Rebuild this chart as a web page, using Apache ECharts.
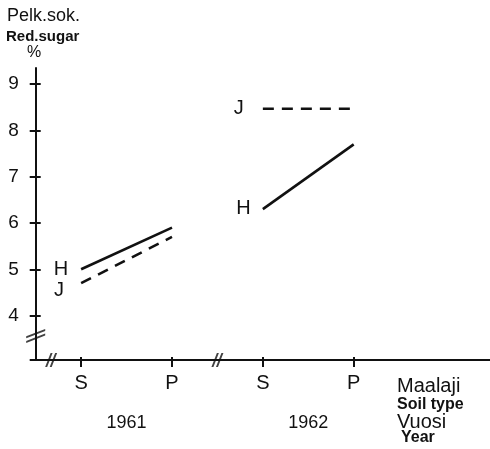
<!DOCTYPE html>
<html>
<head>
<meta charset="utf-8">
<script src="https://cdn.jsdelivr.net/npm/echarts@6/dist/echarts.min.js"></script>
<style>
  html, body { margin: 0; padding: 0; background: #fff; }
  #chart { width: 490px; height: 449px; }
</style>
</head>
<body>
<div id="chart"></div>
<script>
// Reducing sugar (%) by soil type (S, P) in 1961 and 1962, groups H and J
const soilPositions = [0.5, 1.5, 2.5, 3.5];
const soilLabels = ['S', 'P', 'S', 'P'];
const yearPositions = [1, 3];
const yearLabels = ['1961', '1962'];
const yTicks = [4, 5, 6, 7, 8, 9];

const h1961 = [5.0, 5.9];
const j1961 = [4.7, 5.7];
const h1962 = [6.3, 7.7];
const j1962 = [8.47, 8.47];

// axis break marks ("//") on the value scales
const xBreaks = [[0.17, 3.04], [2.0, 3.04]];
const yBreaks = [[0, 3.56]];

const INK = '#111';
const FONT = '"Liberation Sans", Arial, Helvetica, sans-serif';

const yMin = 3.04, yMax = 9.35;

function pairs(xs, ys) { return ys.map((v, i) => [xs[i], v]); }

function lineSeries(name, xs, ys, dashed, labelCfg) {
  const data = pairs(xs, ys).map((p, i) => i === 0
    ? { value: p, label: Object.assign({ show: true, formatter: name, color: INK,
        fontFamily: FONT, fontSize: 20, position: 'left' }, labelCfg) }
    : { value: p });
  return {
    type: 'line', name: name, data: data,
    showSymbol: true, symbol: 'circle', symbolSize: 0.1,
    itemStyle: { color: INK },
    lineStyle: { color: INK, width: 2.6, type: dashed ? [11, 8] : 'solid' },
    label: { show: false },
    silent: true, animation: false, z: 5
  };
}

const chart = echarts.init(document.getElementById('chart'), null, { renderer: 'canvas' });

const baseX = { type: 'value', min: 0, max: 5, position: 'bottom', splitLine: { show: false } };
const baseY = { type: 'value', min: yMin, max: yMax, position: 'left', splitLine: { show: false } };

chart.setOption({
  backgroundColor: '#fff',
  animation: false,
  grid: { left: 35.7, right: 0, top: 68, bottom: 89, containLabel: false },
  xAxis: [
    Object.assign({}, baseX, {
      axisLine: { show: true, lineStyle: { color: INK, width: 2 } },
      axisTick: { show: true, customValues: soilPositions, length: 7, lineStyle: { color: INK, width: 2 } },
      axisLabel: { show: true, customValues: soilPositions, margin: 13, color: INK, fontFamily: FONT, fontSize: 20,
        formatter: v => soilLabels[soilPositions.indexOf(v)] ?? '' }
    }),
    Object.assign({}, baseX, {
      axisLine: { show: false },
      axisTick: { show: true, inside: true, customValues: soilPositions, length: 3, lineStyle: { color: INK, width: 2 } },
      axisLabel: { show: false }
    }),
    Object.assign({}, baseX, {
      axisLine: { show: false },
      axisTick: { show: false },
      axisLabel: { show: true, customValues: yearPositions, margin: 54, color: INK, fontFamily: FONT, fontSize: 18,
        fontWeight: 500, formatter: v => yearLabels[yearPositions.indexOf(v)] ?? '' }
    })
  ],
  yAxis: [
    Object.assign({}, baseY, {
      axisLine: { show: true, lineStyle: { color: INK, width: 2 } },
      axisTick: { show: true, customValues: [yMin].concat(yTicks), length: 6, lineStyle: { color: INK, width: 2 } },
      axisLabel: { show: true, customValues: yTicks, margin: 17, color: INK, fontFamily: FONT, fontSize: 19 }
    }),
    Object.assign({}, baseY, {
      axisLine: { show: false },
      axisTick: { show: true, inside: true, customValues: yTicks, length: 5, lineStyle: { color: INK, width: 2 } },
      axisLabel: { show: false }
    })
  ],
  series: [
    lineSeries('H', soilPositions.slice(0, 2), h1961, false, { distance: 13, offset: [0, 0] }),
    lineSeries('J', soilPositions.slice(0, 2), j1961, true, { distance: 17, offset: [0, 7] }),
    lineSeries('H', soilPositions.slice(2, 4), h1962, false, { distance: 12, offset: [0, -1] }),
    lineSeries('J', soilPositions.slice(2, 4), j1962, true, { distance: 19, offset: [0, 0] }),
    {
      type: 'scatter', data: xBreaks, silent: true, z: 6,
      symbol: 'path://M0,16 L2.2,16 L8.2,0 L6,0 Z M5,16 L7.2,16 L13.2,0 L11,0 Z',
      symbolSize: [12, 14], itemStyle: { color: INK }
    },
    {
      type: 'scatter', data: yBreaks, silent: true, z: 6,
      symbol: 'path://M0,9 L17,1 L17,3.2 L0,11.2 Z M0,14 L17,6 L17,8.2 L0,16.2 Z',
      symbolSize: [19, 14], itemStyle: { color: INK }
    }
  ],
  graphic: [
    { type: 'text', left: 7, top: 7, style: { text: 'Pelk.sok.', font: '18px ' + FONT, fill: INK } },
    { type: 'text', left: 6, top: 29, style: { text: 'Red.sugar', font: 'bold 15px ' + FONT, fill: INK } },
    { type: 'text', left: 27, top: 45, style: { text: '%', font: '16px ' + FONT, fill: INK } },
    { type: 'text', left: 397, top: 376, style: { text: 'Maalaji', font: '20px ' + FONT, fill: INK } },
    { type: 'text', left: 397, top: 397, style: { text: 'Soil type', font: 'bold 16px ' + FONT, fill: INK } },
    { type: 'text', left: 397, top: 412, style: { text: 'Vuosi', font: '20px ' + FONT, fill: INK } },
    { type: 'text', left: 401, top: 430, style: { text: 'Year', font: 'bold 16px ' + FONT, fill: INK } }
  ]
});
</script>
</body>
</html>
